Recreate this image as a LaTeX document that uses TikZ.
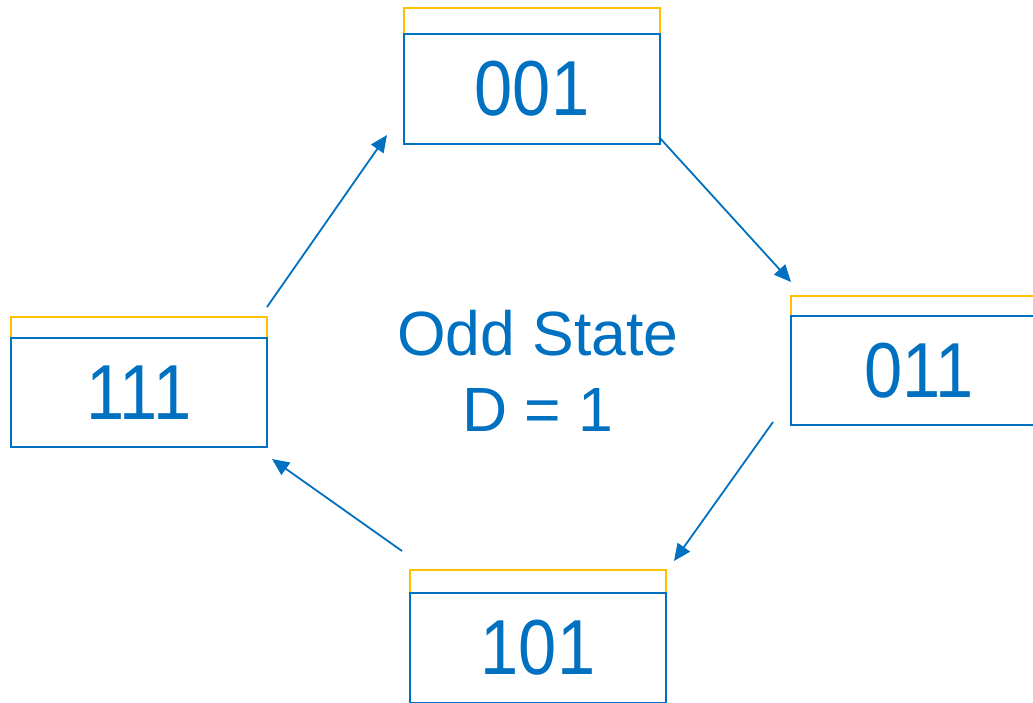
\documentclass[tikz,border=0pt]{standalone}
\usepackage{fontspec}
\setmainfont{Liberation Sans}
\newfontfamily\statefont[FakeStretch=0.88]{Liberation Sans}
\usetikzlibrary{positioning,calc,arrows.meta}
\definecolor{stateblue}{HTML}{0070C0}
\definecolor{tabyellow}{HTML}{FFC000}

\begin{document}
\begin{tikzpicture}[x=1pt, y=-1pt]
    \tikzstyle{tab}=[draw=tabyellow, line width=2pt, rectangle, inner sep=0pt, outer sep=0pt, minimum width=256pt]
    \tikzstyle{statebox}=[draw=stateblue, line width=2pt, rectangle, inner sep=0pt, outer sep=0pt, minimum width=256pt, minimum height=110pt, text=stateblue, font=\statefont\fontsize{78}{80}\selectfont]
    \tikzstyle{move}=[draw=stateblue, line width=1.8pt, -{Triangle[length=17pt, width=15pt]}]
    \useasboundingbox (0,0) rectangle (1033,703);
    \node [tab, minimum height=26pt] (t001) at (532,21) {};
    \node [statebox, below=0pt of t001] (b001) {001};
    \node [tab, minimum height=20pt] (t011) at (919,306) {};
    \node [statebox, below=0pt of t011, minimum height=109pt] (b011) {011};
    \node [tab, minimum height=21pt] (t111) at (139,327.5) {};
    \node [statebox, below=0pt of t111, minimum height=109pt] (b111) {111};
    \node [tab, minimum height=23pt] (t101) at (538,581.5) {};
    \node [statebox, below=0pt of t101] (b101) {101};
    \node [text=stateblue, align=center, font=\fontsize{62.5}{76}\selectfont] (odd) at (538,371) {Odd State\\D = 1};
    \draw [move] ($(t111.north east)+(0,-10)$) -- ($(b001.south west)+(-17,-9)$);
    \draw [move] ($(b001.south east)+(-1,-7)$) -- ($(t011.north west)+(0,-14)$);
    \draw [move] ($(b011.south west)+(-18,-3)$) -- ($(t101.north east)+(8,-9)$);
    \draw [move] ($(t101.north west)+(-8,-19)$) -- ($(b111.south east)+(5,12)$);
\end{tikzpicture}
\end{document}
